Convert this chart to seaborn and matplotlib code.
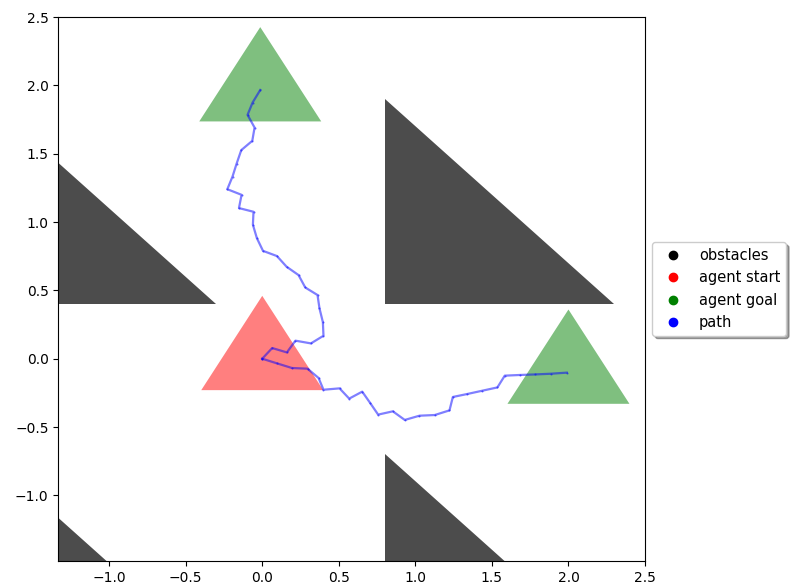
import matplotlib
matplotlib.use("Agg")
import matplotlib.pyplot as plt
from matplotlib.patches import Polygon
from matplotlib.lines import Line2D
import numpy as np
import pandas as pd
import seaborn as sns

# Obstacles: right triangles given by their vertices
obstacles = [
    [(0.8, 1.9), (0.8, 0.4), (2.3, 0.4)],
    [(-1.8, 1.9), (-1.8, 0.4), (-0.3, 0.4)],
    [(0.8, -0.7), (0.8, -2.2), (2.3, -2.2)],
    [(-1.8, -0.7), (-1.8, -2.2), (-0.3, -2.2)],
]

# Agent start and goal poses (drawn as triangles of this circumradius)
start_center = (0.0, 0.0)
goal_centers = [(-0.013, 1.966), (2.0, -0.10)]
marker_radius = 0.46

# Planned paths from the start to each goal
path1_x = [0.0, 0.065, 0.161, 0.217, 0.318, 0.400, 0.396, 0.374, 0.361, 0.281,
           0.237, 0.159, 0.096, 0.005, -0.035, -0.061, -0.057, -0.152, -0.135,
           -0.228, -0.194, -0.168, -0.137, -0.065, -0.050, -0.096, -0.063, -0.013]
path1_y = [0.0, 0.078, 0.046, 0.132, 0.112, 0.168, 0.268, 0.368, 0.466, 0.521,
           0.612, 0.673, 0.751, 0.789, 0.882, 0.980, 1.075, 1.102, 1.199,
           1.240, 1.333, 1.425, 1.526, 1.594, 1.691, 1.784, 1.874, 1.966]

path2_x = [0.0, 0.096, 0.194, 0.296, 0.368, 0.400, 0.505, 0.568, 0.653, 0.705,
           0.757, 0.853, 0.931, 1.027, 1.127, 1.223, 1.245, 1.340, 1.438, 1.536,
           1.584, 1.684, 1.784, 1.884, 1.989]
path2_y = [0.0, -0.034, -0.068, -0.073, -0.141, -0.227, -0.217, -0.292, -0.241,
           -0.324, -0.409, -0.385, -0.448, -0.417, -0.412, -0.378, -0.280, -0.258,
           -0.234, -0.210, -0.124, -0.119, -0.115, -0.110, -0.102]

legend_labels = ["obstacles", "agent start", "agent goal", "path"]
legend_colors = ["black", "red", "green", "blue"]

x_limits = (-1.332, 2.5)
y_limits = (-1.48, 2.5)


def pose_triangle(center, r):
    cx, cy = center
    angles = np.deg2rad([90, 210, 330])
    return np.column_stack([cx + r * np.cos(angles), cy + r * np.sin(angles)])


fig = plt.figure(figsize=(7.92, 5.88), dpi=100)
ax = fig.add_axes([58.3 / 792, 27 / 588, (645 - 58.3) / 792, (561 - 17) / 588])

for verts in obstacles:
    ax.add_patch(Polygon(verts, closed=True, facecolor="black", edgecolor="none",
                         alpha=0.7))

ax.add_patch(Polygon(pose_triangle(start_center, marker_radius), closed=True,
                     facecolor="red", edgecolor="none", alpha=0.5))
for gc in goal_centers:
    ax.add_patch(Polygon(pose_triangle(gc, marker_radius), closed=True,
                         facecolor="green", edgecolor="none", alpha=0.5))

for px, py in [(path1_x, path1_y), (path2_x, path2_y)]:
    df = pd.DataFrame({"x": px, "y": py})
    sns.lineplot(data=df, x="x", y="y", sort=False, estimator=None, ax=ax,
                 color="blue", alpha=0.5, linewidth=1.6, marker=".",
                 markersize=3, markeredgewidth=0)

ax.set_xlim(*x_limits)
ax.set_ylim(*y_limits)
ax.set_xlabel("")
ax.set_ylabel("")
ax.set_xticks([-1.0, -0.5, 0.0, 0.5, 1.0, 1.5, 2.0, 2.5])
ax.set_yticks([-1.0, -0.5, 0.0, 0.5, 1.0, 1.5, 2.0, 2.5])

handles = [Line2D([0], [0], marker="o", linestyle="", color=c, label=l)
           for l, c in zip(legend_labels, legend_colors)]
ax.legend(handles=handles, loc="center left", bbox_to_anchor=(1.0, 0.5),
          shadow=True, fontsize=10.5)

fig.savefig("out.png", dpi=100)
